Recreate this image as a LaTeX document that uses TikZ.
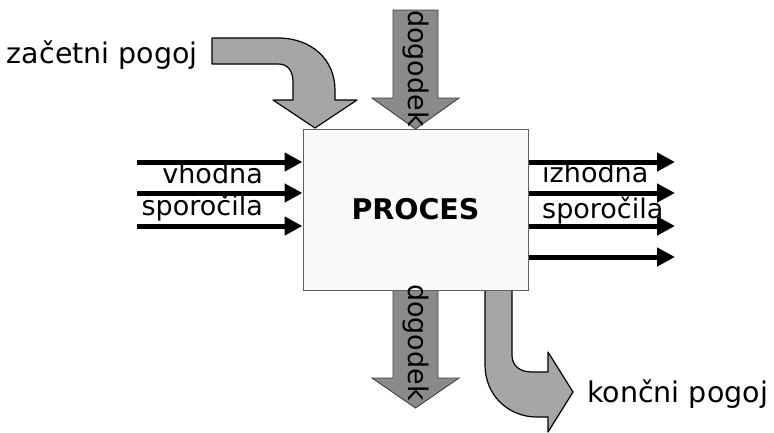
\documentclass[tikz,border=0pt]{standalone}
\usepackage{fontspec}
\setmainfont{DejaVu Sans}
\usetikzlibrary{arrows.meta}
\definecolor{boxfill}{HTML}{FAFAFA}
\definecolor{boxline}{HTML}{606060}
\definecolor{bentfill}{HTML}{A6A6A6}
\definecolor{evfill}{HTML}{8A8A8A}
\definecolor{evline}{HTML}{404040}
\tikzset{
  msg/.style={line width=5pt,-{Triangle[length=18pt,width=18pt]}},
  lbl/.style={inner sep=0pt,font=\fontsize{27}{30}\selectfont},
  cond/.style={inner sep=0pt,font=\fontsize{28.5}{32}\selectfont},
  bent/.style={fill=bentfill,draw=black,line width=1.2pt,line join=round},
  event/.style={fill=evfill,draw=evline,line width=0.9pt,line join=miter},
  procbox/.style={draw=boxline,fill=boxfill,line width=1pt,minimum width=225pt,minimum height=161pt,inner sep=0pt,font=\fontsize{28.5}{32}\selectfont\bfseries}
}
\begin{document}
\begin{tikzpicture}[x=1pt,y=-1pt]
\useasboundingbox (0,0) rectangle (774,432);
% bent arrow: zacetni pogoj
\draw[bent] (212,38) -- (278,38) .. controls (312,38) and (335,60) .. (335,90) -- (335,100) -- (357,100) -- (315,128) -- (273,100) -- (293,100) -- (293,82) .. controls (293,71) and (288,64) .. (278,64) -- (212,64) -- cycle;
% event arrow top
\draw[event] (393,10) -- (438,10) -- (438,98) -- (459,98) -- (415.5,129) -- (372,98) -- (393,98) -- cycle;
% event arrow bottom
\draw[event] (393,290) -- (438,290) -- (438,378) -- (459,378) -- (415.5,408) -- (372,378) -- (393,378) -- cycle;
% bent arrow: koncni pogoj
\draw[bent] (485,290) -- (512,290) -- (512,355) .. controls (512,366) and (520,372) .. (532,372) -- (548,372) -- (548,352) -- (573,392) -- (548,432) -- (548,417) -- (537,417) .. controls (508,417) and (485,395) .. (485,365) -- cycle;
% process box
\node[procbox] (proc) at (415.5,209.5) {PROCES};
% event labels
\node[lbl,rotate=-90] (ev1) at (415.5,68.5) {dogodek};
\node[lbl,rotate=-90] (ev2) at (415.5,342.5) {dogodek};
% condition labels
\node[cond,anchor=base east] (start) at (198,63) {začetni pogoj};
\node[cond,anchor=base west] (end) at (587,402) {končni pogoj};
% message labels
\node[lbl,anchor=base east] (inA) at (263,183) {vhodna};
\node[lbl,anchor=base east] (inB) at (263,215) {sporočila};
\node[lbl,anchor=base west] (outA) at (542,182) {izhodna};
\node[lbl,anchor=base west] (outB) at (542,218) {sporočila};
% input arrows
\coordinate (i1) at (137,162);
\coordinate (i2) at (137,193);
\coordinate (i3) at (137,226);
\draw[msg] (i1) -- (i1 -| proc.west);
\draw[msg] (i2) -- (i2 -| proc.west);
\draw[msg] (i3) -- (i3 -| proc.west);
% output arrows
\coordinate (o1) at (675,162);
\coordinate (o2) at (675,193);
\coordinate (o3) at (675,226);
\coordinate (o4) at (675,257);
\draw[msg] (o1 -| proc.east) -- (o1);
\draw[msg] (o2 -| proc.east) -- (o2);
\draw[msg] (o3 -| proc.east) -- (o3);
\draw[msg] (o4 -| proc.east) -- (o4);
\end{tikzpicture}
\end{document}
